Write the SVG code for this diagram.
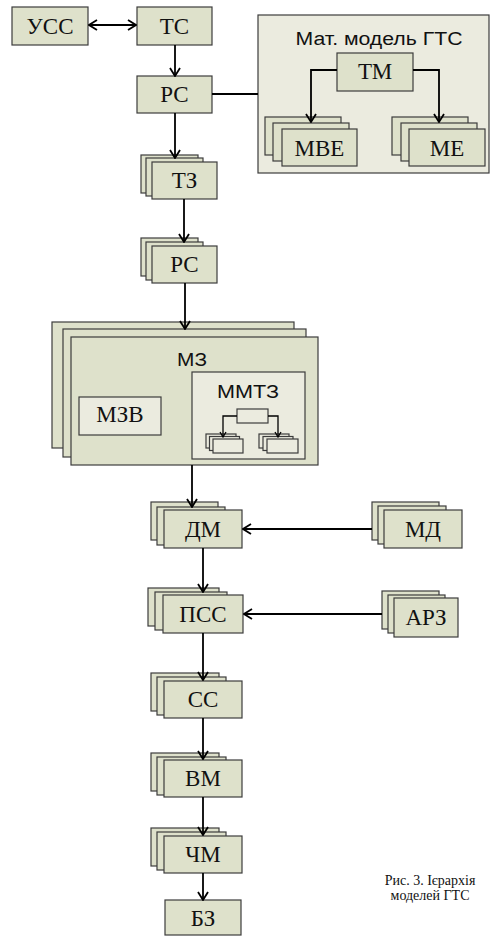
<svg xmlns="http://www.w3.org/2000/svg" width="491" height="936" viewBox="0 0 491 936">
  <style>
    .box { fill: #dee1cb; stroke: #3c3c3c; stroke-width: 1.2; }
    .pane { fill: #ebebdf; stroke: #3c3c3c; stroke-width: 1.2; }
    .wire { fill: none; stroke: #000; stroke-width: 1.8; }
    .wire-s { fill: none; stroke: #000; stroke-width: 1.3; }
  </style>
  <defs>
    <marker id="arr" viewBox="0 0 12 12" refX="11" refY="6" markerWidth="12" markerHeight="12" markerUnits="userSpaceOnUse" orient="auto-start-reverse">
      <path d="M3,1 L11,6 L3,11" fill="none" stroke="#000" stroke-width="1.8"/>
    </marker>
    <marker id="arr-s" viewBox="0 0 8 8" refX="7" refY="4" markerWidth="8" markerHeight="8" markerUnits="userSpaceOnUse" orient="auto">
      <path d="M2,1 L7,4 L2,7" fill="none" stroke="#000" stroke-width="1.3"/>
    </marker>
  </defs>

  <!-- serif labels inherit from this group; sans titles override -->
  <g font-family="Liberation Serif, Times New Roman, serif" font-size="23" fill="#111" text-anchor="middle">

  <g id="mat-model">
    <rect class="pane" x="258" y="15" width="231" height="158"/>
    <text x="379" y="45" font-family="Liberation Sans, Arial, sans-serif" font-size="18" textLength="167" lengthAdjust="spacingAndGlyphs">Мат. модель ГТС</text>
  </g>

  <g id="mz">
    <rect class="box" x="52" y="322" width="242" height="126"/>
    <rect class="box" x="63" y="329" width="243" height="128"/>
    <rect class="box" x="71" y="337" width="247" height="128"/>
    <text x="192" y="366" font-family="Liberation Sans, Arial, sans-serif" font-size="18" textLength="30" lengthAdjust="spacingAndGlyphs">МЗ</text>
  </g>

  <g id="mzv">
    <rect class="pane" x="79" y="397" width="82" height="38"/>
    <text x="120" y="422">МЗВ</text>
  </g>

  <g id="mmtz">
    <rect class="pane" x="192" y="372" width="113" height="87"/>
    <text x="248" y="398" font-family="Liberation Sans, Arial, sans-serif" font-size="18" textLength="62" lengthAdjust="spacingAndGlyphs">ММТЗ</text>
    <rect class="pane" x="237" y="409" width="31" height="14"/>
    <rect class="pane" x="206" y="434" width="30" height="14"/>
    <rect class="pane" x="209.5" y="436.5" width="30" height="14"/>
    <rect class="pane" x="213" y="439" width="30" height="14"/>
    <rect class="pane" x="259" y="434" width="30" height="14"/>
    <rect class="pane" x="263" y="436.5" width="30" height="14"/>
    <rect class="pane" x="267" y="439" width="31" height="14"/>
  </g>

  <!-- single nodes -->
  <g id="uss">
    <rect class="box" x="12" y="7" width="76" height="38"/>
    <text x="50" y="34">УСС</text>
  </g>
  <g id="ts">
    <rect class="box" x="137" y="7" width="75" height="38"/>
    <text x="174.5" y="34">ТС</text>
  </g>
  <g id="rs">
    <rect class="box" x="137" y="76" width="75" height="37"/>
    <text x="174.5" y="102">РС</text>
  </g>
  <g id="tm">
    <rect class="box" x="337" y="53" width="76" height="38"/>
    <text x="375" y="79">ТМ</text>
  </g>

  <!-- stacked nodes -->
  <g id="mve">
    <rect class="box" x="265" y="117" width="76" height="38"/>
    <rect class="box" x="273" y="123" width="76" height="38"/>
    <rect class="box" x="282" y="129" width="75" height="37"/>
    <text x="319.5" y="156">МВЕ</text>
  </g>
  <g id="me">
    <rect class="box" x="392" y="117" width="76" height="38"/>
    <rect class="box" x="401" y="123" width="76" height="38"/>
    <rect class="box" x="409" y="129" width="76" height="37"/>
    <text x="447" y="156">МЕ</text>
  </g>
  <g id="tz">
    <rect class="box" x="141" y="155" width="57" height="38"/>
    <rect class="box" x="146" y="158" width="57" height="38"/>
    <rect class="box" x="152" y="162" width="65" height="37"/>
    <text x="184.5" y="188">ТЗ</text>
  </g>
  <g id="rs2">
    <rect class="box" x="141" y="238" width="57" height="38"/>
    <rect class="box" x="146" y="242" width="57" height="38"/>
    <rect class="box" x="152" y="246" width="65" height="37"/>
    <text x="184.5" y="272">РС</text>
  </g>
  <g id="dm">
    <rect class="box" x="151" y="502" width="67" height="38"/>
    <rect class="box" x="157" y="507" width="68" height="38"/>
    <rect class="box" x="164" y="510" width="78" height="38"/>
    <text x="203" y="537">ДМ</text>
  </g>
  <g id="md">
    <rect class="box" x="372" y="502" width="67" height="38"/>
    <rect class="box" x="378" y="506" width="68" height="38"/>
    <rect class="box" x="384" y="510" width="78" height="38"/>
    <text x="423" y="537">МД</text>
  </g>
  <g id="pss">
    <rect class="box" x="148" y="588" width="71" height="38"/>
    <rect class="box" x="155" y="592" width="72" height="38"/>
    <rect class="box" x="163" y="595" width="80" height="38"/>
    <text x="203" y="622">ПСС</text>
  </g>
  <g id="arz">
    <rect class="box" x="382" y="591" width="57" height="38"/>
    <rect class="box" x="388" y="595" width="57" height="38"/>
    <rect class="box" x="394" y="598" width="64" height="39"/>
    <text x="426" y="625">АРЗ</text>
  </g>
  <g id="ss">
    <rect class="box" x="151" y="673" width="68" height="38"/>
    <rect class="box" x="157" y="677" width="69" height="38"/>
    <rect class="box" x="164" y="681" width="78" height="37"/>
    <text x="203" y="707">СС</text>
  </g>
  <g id="vm">
    <rect class="box" x="151" y="753" width="68" height="38"/>
    <rect class="box" x="157" y="757" width="69" height="38"/>
    <rect class="box" x="164" y="760" width="78" height="37"/>
    <text x="203" y="786">ВМ</text>
  </g>
  <g id="chm">
    <rect class="box" x="151" y="828" width="68" height="38"/>
    <rect class="box" x="157" y="832" width="69" height="38"/>
    <rect class="box" x="164" y="836" width="78" height="37"/>
    <text x="203" y="862">ЧМ</text>
  </g>
  <g id="bz">
    <rect class="box" x="165" y="900" width="76" height="35"/>
    <text x="203" y="926">БЗ</text>
  </g>

  <!-- caption -->
  <text x="430" y="885" font-size="14">Рис. 3. Ієрархія</text>
  <text x="430" y="900" font-size="14">моделей ГТС</text>
  </g>

  <!-- connectors -->
  <g id="connectors">
    <line class="wire" x1="89" y1="25" x2="136" y2="25" marker-start="url(#arr)" marker-end="url(#arr)"/>
    <line class="wire" x1="175" y1="45" x2="175" y2="76" marker-end="url(#arr)"/>
    <line class="wire" x1="212" y1="94" x2="258" y2="94"/>
    <path class="wire" d="M337,70 H311 V122" marker-end="url(#arr)"/>
    <path class="wire" d="M413,70 H439 V122" marker-end="url(#arr)"/>
    <line class="wire" x1="175" y1="113" x2="175" y2="158" marker-end="url(#arr)"/>
    <line class="wire" x1="184" y1="199" x2="184" y2="242" marker-end="url(#arr)"/>
    <line class="wire" x1="185" y1="283" x2="185" y2="329" marker-end="url(#arr)"/>
    <line class="wire" x1="192" y1="465" x2="192" y2="507" marker-end="url(#arr)"/>
    <line class="wire" x1="372" y1="529" x2="243" y2="529" marker-end="url(#arr)"/>
    <line class="wire" x1="203" y1="548" x2="203" y2="592" marker-end="url(#arr)"/>
    <line class="wire" x1="382" y1="614" x2="244" y2="614" marker-end="url(#arr)"/>
    <line class="wire" x1="203" y1="633" x2="203" y2="680" marker-end="url(#arr)"/>
    <line class="wire" x1="203" y1="718" x2="203" y2="759" marker-end="url(#arr)"/>
    <line class="wire" x1="203" y1="797" x2="203" y2="835" marker-end="url(#arr)"/>
    <line class="wire" x1="203" y1="873" x2="203" y2="900" marker-end="url(#arr)"/>
    <path class="wire-s" d="M237,416 H223 V437" marker-end="url(#arr-s)"/>
    <path class="wire-s" d="M268,416 H278 V437" marker-end="url(#arr-s)"/>
  </g>
</svg>
